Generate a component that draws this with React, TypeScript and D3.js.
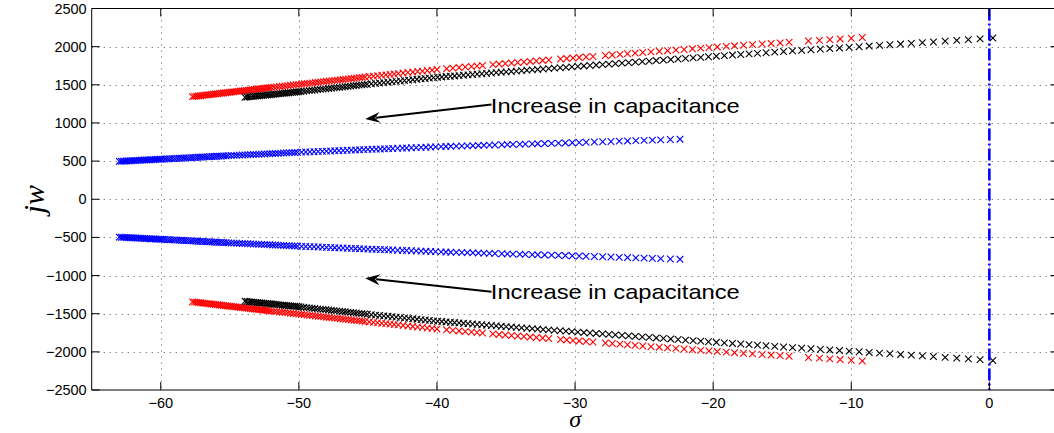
import React from 'react';
import * as d3 from 'd3';

const W = 1054;
const H = 433;

const xTicks = [-60, -50, -40, -30, -20, -10, 0];
const yTicks = [-2500, -2000, -1500, -1000, -500, 0, 500, 1000, 1500, 2000, 2500];

// Upper-branch poles (sigma, omega); lower branch is the complex conjugate
const blueSigma = [-22.4, -23.1, -23.8, -24.4, -25.0, -25.6, -26.2, -26.8, -27.4, -28.0, -28.6, -29.2, -29.7, -30.2, -30.7, -31.2, -31.7, -32.2, -32.7, -33.1, -33.6, -34.0, -34.5, -34.9, -35.3, -35.8, -36.2, -36.6, -37.0, -37.4, -37.8, -38.2, -38.6, -39.0, -39.35, -39.7, -40.1, -40.45, -40.8, -41.15, -41.5, -41.85, -42.2, -42.5, -42.85, -43.2, -43.5, -43.8, -44.1, -44.4, -44.7, -45.0, -45.3, -45.6, -45.9, -46.2, -46.5, -46.8, -47.1, -47.4, -47.7, -48.0, -48.3, -48.6, -48.9, -49.2, -49.5, -49.8, -50.1, -50.3, -50.5, -50.7, -50.9, -51.1, -51.3, -51.5, -51.7, -51.9, -52.1, -52.3, -52.5, -52.7, -52.9, -53.1, -53.3, -53.5, -53.7, -53.9, -54.1, -54.3, -54.5, -54.7, -54.9, -55.1, -55.27, -55.44, -55.61, -55.78, -55.95, -56.12, -56.29, -56.46, -56.63, -56.8, -56.97, -57.14, -57.31, -57.48, -57.65, -57.82, -57.99, -58.16, -58.33, -58.5, -58.67, -58.84, -59.01, -59.18, -59.35, -59.52, -59.69, -59.86, -60.0, -60.13, -60.26, -60.39, -60.52, -60.65, -60.78, -60.91, -61.04, -61.17, -61.3, -61.43, -61.56, -61.69, -61.82, -61.95, -62.08, -62.21, -62.34, -62.47, -62.6, -62.73, -62.86, -63.0];
const blueOmega = [787, 783, 778, 775, 771, 768, 764, 761, 757, 754, 750, 747, 744, 741, 738, 736, 733, 730, 728, 726, 723, 721, 719, 717, 714, 711, 709, 707, 705, 702, 700, 698, 696, 694, 692, 690, 687, 685, 682, 680, 677, 675, 672, 670, 668, 665, 663, 661, 659, 657, 655, 653, 651, 648, 646, 644, 642, 639, 637, 635, 632, 630, 628, 626, 623, 621, 619, 617, 614, 612, 611, 609, 607, 606, 604, 602, 600, 599, 597, 595, 593, 592, 590, 588, 587, 585, 583, 581, 580, 578, 576, 575, 573, 571, 569, 568, 566, 565, 563, 561, 560, 558, 556, 555, 553, 551, 550, 548, 547, 545, 543, 542, 540, 538, 537, 535, 533, 532, 530, 529, 527, 526, 525, 524, 523, 521, 520, 519, 518, 516, 515, 514, 513, 512, 510, 509, 508, 507, 505, 504, 503, 502, 500, 499, 498, 497];

const redSigma = [-9.2, -10.0, -10.8, -11.55, -12.3, -13.1, -14.5, -15.15, -15.8, -16.45, -17.15, -17.8, -18.45, -19.05, -19.7, -20.3, -20.9, -21.5, -22.1, -22.7, -23.3, -23.9, -24.5, -25.1, -25.65, -26.2, -26.75, -27.3, -27.8, -28.7, -29.2, -29.7, -30.15, -30.6, -31.05, -31.9, -32.35, -32.8, -33.25, -33.7, -34.15, -34.6, -35.05, -35.5, -35.95, -36.7, -37.1, -37.5, -37.95, -38.4, -38.85, -39.3, -40.0, -40.35, -40.7, -41.05, -41.4, -41.75, -42.1, -42.45, -42.8, -43.1, -43.4, -43.7, -44.0, -44.3, -44.6, -44.9, -45.2, -45.4, -45.6, -45.8, -46.0, -46.2, -46.4, -46.6, -46.8, -47.0, -47.2, -47.4, -47.6, -47.8, -48.0, -48.2, -48.4, -48.6, -48.8, -49.0, -49.2, -49.4, -49.6, -49.8, -50.0, -50.2, -50.4, -50.6, -50.8, -51.0, -51.2, -51.4, -51.6, -51.8, -52.0, -52.15, -52.3, -52.45, -52.6, -52.75, -52.9, -53.05, -53.2, -53.35, -53.5, -53.65, -53.8, -53.95, -54.1, -54.25, -54.4, -54.55, -54.7, -54.85, -55.0, -55.15, -55.3, -55.45, -55.6, -55.75, -55.9, -56.05, -56.2, -56.35, -56.5, -56.65, -56.8, -56.95, -57.1, -57.25, -57.4, -57.55, -57.7];
const redOmega = [2120, 2110, 2101, 2092, 2083, 2074, 2058, 2050, 2042, 2035, 2026, 2018, 2011, 2003, 1996, 1988, 1980, 1972, 1963, 1955, 1947, 1939, 1931, 1923, 1915, 1907, 1899, 1891, 1884, 1871, 1864, 1857, 1851, 1844, 1838, 1825, 1819, 1812, 1806, 1799, 1792, 1786, 1779, 1772, 1765, 1753, 1746, 1740, 1733, 1726, 1718, 1711, 1700, 1693, 1687, 1680, 1674, 1667, 1661, 1654, 1647, 1642, 1636, 1630, 1625, 1619, 1614, 1608, 1602, 1598, 1594, 1590, 1586, 1582, 1578, 1574, 1570, 1566, 1562, 1558, 1554, 1550, 1546, 1542, 1538, 1534, 1530, 1526, 1522, 1518, 1514, 1510, 1506, 1502, 1498, 1494, 1489, 1485, 1481, 1477, 1473, 1469, 1464, 1461, 1458, 1455, 1452, 1449, 1446, 1443, 1440, 1436, 1433, 1430, 1427, 1424, 1421, 1418, 1414, 1411, 1408, 1405, 1402, 1399, 1396, 1393, 1389, 1386, 1383, 1380, 1376, 1373, 1370, 1367, 1364, 1361, 1357, 1354, 1351, 1348, 1345];

const blackSigma = [0.25, -0.67, -1.52, -2.36, -3.2, -4.05, -4.85, -5.65, -6.43, -7.2, -7.95, -8.7, -9.43, -10.15, -10.85, -11.55, -12.24, -12.92, -13.59, -14.25, -14.9, -15.54, -16.17, -16.79, -17.4, -18.0, -18.6, -19.19, -19.77, -20.34, -20.9, -21.45, -22.0, -22.54, -23.07, -23.6, -24.12, -24.63, -25.13, -25.63, -26.12, -26.6, -27.08, -27.55, -28.01, -28.47, -28.92, -29.36, -29.8, -30.23, -30.66, -31.08, -31.5, -31.91, -32.31, -32.71, -33.1, -33.49, -33.87, -34.25, -34.62, -34.99, -35.35, -35.71, -36.06, -36.41, -36.75, -37.09, -37.42, -37.75, -38.08, -38.4, -38.72, -39.03, -39.34, -39.65, -39.95, -40.25, -40.55, -40.85, -41.15, -41.45, -41.75, -42.05, -42.35, -42.65, -42.95, -43.25, -43.55, -43.85, -44.15, -44.45, -44.75, -45.05, -45.25, -45.45, -45.65, -45.85, -46.05, -46.25, -46.45, -46.65, -46.85, -47.05, -47.25, -47.45, -47.65, -47.85, -48.05, -48.25, -48.45, -48.65, -48.85, -49.05, -49.25, -49.45, -49.65, -49.85, -50.0, -50.15, -50.3, -50.45, -50.6, -50.75, -50.9, -51.05, -51.2, -51.35, -51.5, -51.65, -51.8, -51.95, -52.1, -52.25, -52.4, -52.55, -52.7, -52.85, -53.0, -53.15, -53.3, -53.45, -53.6, -53.75, -53.9];
const blackOmega = [2113, 2102, 2092, 2082, 2072, 2061, 2052, 2043, 2034, 2025, 2016, 2008, 1999, 1991, 1983, 1975, 1967, 1959, 1951, 1944, 1936, 1928, 1920, 1912, 1905, 1897, 1890, 1882, 1875, 1868, 1860, 1853, 1846, 1838, 1831, 1824, 1818, 1811, 1804, 1797, 1791, 1784, 1778, 1771, 1765, 1759, 1753, 1747, 1741, 1735, 1729, 1723, 1718, 1712, 1707, 1701, 1696, 1691, 1685, 1680, 1675, 1670, 1665, 1660, 1655, 1650, 1645, 1640, 1635, 1630, 1626, 1621, 1616, 1612, 1608, 1603, 1599, 1594, 1588, 1583, 1577, 1572, 1567, 1561, 1556, 1550, 1545, 1540, 1534, 1529, 1523, 1518, 1513, 1507, 1503, 1499, 1495, 1491, 1487, 1483, 1479, 1475, 1471, 1467, 1463, 1459, 1455, 1451, 1447, 1444, 1440, 1436, 1432, 1428, 1424, 1420, 1416, 1412, 1409, 1406, 1403, 1401, 1398, 1395, 1392, 1390, 1387, 1384, 1381, 1378, 1376, 1373, 1370, 1367, 1365, 1362, 1359, 1356, 1354, 1351, 1348, 1345, 1343, 1340, 1337];

const seriesList = [
  { name: 'red', color: '#ff0000', sigma: redSigma, omega: redOmega },
  { name: 'black', color: '#000000', sigma: blackSigma, omega: blackOmega },
  { name: 'blue', color: '#0000ff', sigma: blueSigma, omega: blueOmega },
];

const annotationText = 'Increase in capacitance';

const FONT = '"Liberation Sans", Arial, Helvetica, sans-serif';

export default function App() {
  const x = d3.scaleLinear().domain([-65, 5]).range([91.7, 1058.4]);
  const y = d3.scaleLinear().domain([-2500, 2500]).range([390, 8.5]);
  const [x0, x1] = x.range();
  const [yb, yt] = y.range();
  const xRight = Math.min(x1, W + 2);
  const m = 3.3;

  const markerPath = (sig: number[], om: number[], sign: number) =>
    sig
      .map((s, i) => {
        const px = x(s);
        const py = y(sign * om[i]);
        return `M${px - m},${py - m}L${px + m},${py + m}M${px - m},${py + m}L${px + m},${py - m}`;
      })
      .join('');

  const arrows = [
    { from: [-36.05, 1242], to: [-45.2, 1051], textAt: [-36.1, 1131] },
    { from: [-36.05, -1212], to: [-45.2, -1034], textAt: [-36.1, -1308] },
  ];

  const arrowHead = (fx: number, fy: number, tx: number, ty: number) => {
    const ang = Math.atan2(ty - fy, tx - fx);
    const L = 15, Wd = 5.5, notch = 10;
    const ux = Math.cos(ang), uy = Math.sin(ang);
    const nx = -uy, ny = ux;
    const bx = tx - ux * L, by = ty - uy * L;
    const cx = tx - ux * notch, cy = ty - uy * notch;
    return `M${tx},${ty}L${bx + nx * Wd},${by + ny * Wd}L${cx},${cy}L${bx - nx * Wd},${by - ny * Wd}Z`;
  };

  return (
    <div style={{ position: 'fixed', left: 0, top: 0 }}>
      <svg width={W} height={H} style={{ display: 'block', background: '#fff' }}>
        <defs>
          <clipPath id="plotclip">
            <rect x={x0} y={yt} width={x1 - x0} height={yb - yt} />
          </clipPath>
        </defs>
        {/* grid */}
        <g stroke="#555" strokeWidth={1} strokeDasharray="1,5">
          {xTicks.map((t) => (
            <line key={'gx' + t} x1={Math.round(x(t)) + 0.5} x2={Math.round(x(t)) + 0.5} y1={yt} y2={yb} />
          ))}
          {yTicks.filter((t) => t > -2500 && t < 2500).map((t) => (
            <line key={'gy' + t} x1={x0} x2={x1} y1={Math.round(y(t)) + 0.5} y2={Math.round(y(t)) + 0.5} />
          ))}
        </g>
        {/* series */}
        <g clipPath="url(#plotclip)" fill="none" strokeWidth={1.1}>
          {seriesList.map((s) => (
            <g key={s.name} stroke={s.color}>
              <path d={markerPath(s.sigma, s.omega, 1)} />
              <path d={markerPath(s.sigma, s.omega, -1)} />
            </g>
          ))}
          {/* imaginary axis line */}
          <line x1={x(0)} x2={x(0)} y1={yt} y2={yb} stroke="#0000ff" strokeWidth={2.6} strokeDasharray="12,3,2,3" />
        </g>
        {/* axes box */}
        <g stroke="#000" strokeWidth={1} fill="none">
          <line x1={x0} x2={xRight} y1={yt} y2={yt} />
          <line x1={x0} x2={xRight} y1={yb} y2={yb} />
          <line x1={x0} x2={x0} y1={yt} y2={yb} />
          <line x1={x1} x2={x1} y1={yt} y2={yb} />
          {xTicks.map((t) => (
            <g key={'tx' + t}>
              <line x1={x(t)} x2={x(t)} y1={yb} y2={yb - 8} />
              <line x1={x(t)} x2={x(t)} y1={yt} y2={yt + 8} />
            </g>
          ))}
          {yTicks.map((t) => (
            <g key={'ty' + t}>
              <line x1={x0} x2={x0 + 8} y1={y(t)} y2={y(t)} />
              <line x1={x1} x2={x1 - 8} y1={y(t)} y2={y(t)} />
            </g>
          ))}
        </g>
        {/* tick labels */}
        <g fontFamily={FONT} fontSize={14.5} fill="#000">
          {xTicks.map((t) => (
            <text key={'lx' + t} x={x(t)} y={yb + 18} textAnchor="middle">
              {t < 0 ? '\u2212' + Math.abs(t) : String(t)}
            </text>
          ))}
          {yTicks.map((t) => (
            <text key={'ly' + t} x={x0 - 5} y={y(t) + 5} textAnchor="end">
              {t < 0 ? '\u2212' + Math.abs(t) : String(t)}
            </text>
          ))}
        </g>
        {/* axis labels */}
        <text x={x(-30)} y={427} textAnchor="middle" fontFamily='"Liberation Serif", "Times New Roman", serif' fontStyle="italic" fontSize={24}>
          σ
        </text>
        <text
          transform={`translate(44,${y(0)}) rotate(-90)`}
          textAnchor="middle"
          fontFamily='"Liberation Serif", "Times New Roman", serif'
          fontStyle="italic"
          fontSize={30}
        >
          jw
        </text>
        {/* annotations */}
        {arrows.map((a, i) => {
          const fx = x(a.from[0]), fy = y(a.from[1]);
          const tx = x(a.to[0]), ty = y(a.to[1]);
          const ang = Math.atan2(ty - fy, tx - fx);
          const ex = tx - Math.cos(ang) * 11, ey = ty - Math.sin(ang) * 11;
          return (
            <g key={'ann' + i}>
              <line x1={fx} y1={fy} x2={ex} y2={ey} stroke="#000" strokeWidth={2} />
              <path d={arrowHead(fx, fy, tx, ty)} fill="#000" />
              <text x={x(a.textAt[0])} y={y(a.textAt[1])} fontFamily={FONT} fontSize={21} textLength={249} lengthAdjust="spacingAndGlyphs">
                {annotationText}
              </text>
            </g>
          );
        })}
      </svg>
    </div>
  );
}
